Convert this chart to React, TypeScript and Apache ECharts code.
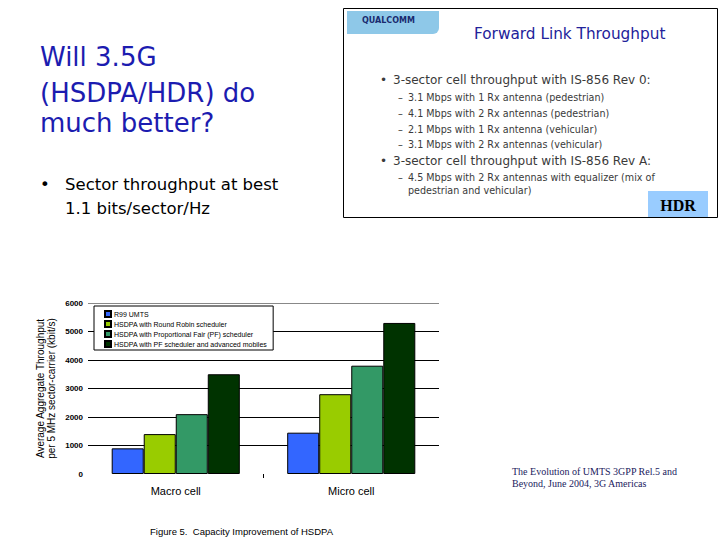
import React, { useEffect, useRef } from "react";
import * as echarts from "echarts";

const categories = ["Macro cell", "Micro cell"];
const seriesNames = [
  "R99 UMTS",
  "HSDPA with Round Robin scheduler",
  "HSDPA with Proportional Fair (PF) scheduler",
  "HSDPA with PF scheduler and advanced mobiles",
];
const r99 = [900, 1450];
const roundRobin = [1400, 2800];
const propFair = [2100, 3800];
const pfAdvanced = [3500, 5300];
const seriesColors = ["#3366ff", "#99cc00", "#339966", "#003300"];

const titleLines = ["Will 3.5G", "(HSDPA/HDR) do", "much better?"];
const bulletLines = ["Sector throughput at best", "1.1 bits/sector/Hz"];
const boxBullets = [
  "3-sector cell throughput with IS-856 Rev 0:",
  "3-sector cell throughput with IS-856 Rev A:",
];
const boxSubs1 = [
  "3.1 Mbps with 1 Rx antenna (pedestrian)",
  "4.1 Mbps with 2 Rx antennas (pedestrian)",
  "2.1 Mbps with 1 Rx antenna (vehicular)",
  "3.1 Mbps with 2 Rx antennas (vehicular)",
];
const boxSubs2 = [
  "4.5 Mbps with 2 Rx antennas with equalizer (mix of",
  "pedestrian and vehicular)",
];
const citation = [
  "The Evolution of UMTS 3GPP Rel.5 and",
  "Beyond, June 2004, 3G Americas",
];

const SANS = "'DejaVu Sans', Verdana, sans-serif";
const ARIAL = "'Liberation Sans', Arial, sans-serif";
const SERIF = "'Liberation Serif', 'Times New Roman', serif";

function txt(x: number, y: number, text: string, fontSize: number, family: string, fill: string, extra: any = {}) {
  return {
    type: "text",
    x,
    y,
    z: 20,
    silent: true,
    style: {
      text,
      fontSize,
      fontFamily: family,
      fill,
      align: "left",
      verticalAlign: "middle",
      ...extra,
    },
  };
}

export default function App() {
  const ref = useRef<HTMLDivElement>(null);
  useEffect(() => {
    if (!ref.current) return;
    const chart = echarts.init(ref.current, undefined, { renderer: "svg" });
    const values = [r99, roundRobin, propFair, pfAdvanced];

    const graphics: any[] = [];
    // slide title
    const titleY = [57, 93, 123];
    titleLines.forEach((t, i) => graphics.push(txt(40, titleY[i], t, 26, SANS, "#1c1cb0")));
    // bullet
    graphics.push(txt(40, 184, "•", 16.5, SANS, "#000"));
    bulletLines.forEach((t, i) => graphics.push(txt(65, 184 + i * 24, t, 16.5, SANS, "#000")));
    // screenshot box
    graphics.push({
      type: "rect",
      shape: { x: 343.5, y: 8.5, width: 374, height: 209 },
      style: { fill: "#fff", stroke: "#000", lineWidth: 1 },
      z: 1,
    });
    graphics.push({
      type: "rect",
      shape: { x: 347, y: 11, width: 92, height: 23, r: [0, 0, 6, 0] },
      style: { fill: "#8ec8e8" },
      z: 2,
    });
    graphics.push(txt(362, 20, "QUALCOMM", 8, SANS, "#1a2a6e", { fontWeight: "bold" }));
    graphics.push(txt(474, 34, "Forward Link Throughput", 15.3, SANS, "#22229a"));
    const bulletY = [80, 161];
    boxBullets.forEach((t, i) => {
      graphics.push(txt(380, bulletY[i], "•", 12, SANS, "#3a3a3a"));
      graphics.push(txt(393, bulletY[i], t, 12, SANS, "#3a3a3a"));
    });
    const sub1Y = [97.5, 113, 129, 144.5];
    boxSubs1.forEach((t, i) => {
      graphics.push(txt(398, sub1Y[i], "–", 9.6, SANS, "#3a3a3a"));
      graphics.push(txt(408, sub1Y[i], t, 9.6, SANS, "#3a3a3a"));
    });
    const sub2Y = [177, 190.5];
    boxSubs2.forEach((t, i) => {
      if (i === 0) graphics.push(txt(398, sub2Y[i], "–", 9.6, SANS, "#3a3a3a"));
      graphics.push(txt(408, sub2Y[i], t, 9.6, SANS, "#3a3a3a"));
    });
    graphics.push({
      type: "rect",
      shape: { x: 648, y: 191, width: 60, height: 26 },
      style: { fill: "#99ccff" },
      z: 2,
    });
    graphics.push(txt(678, 205, "HDR", 16, SERIF, "#000", { align: "center", fontWeight: "bold" }));
    // citation
    citation.forEach((t, i) => graphics.push(txt(512, 471 + i * 12.5, t, 10, SERIF, "#1a1a5e")));
    // figure caption
    graphics.push(txt(150, 531, "Figure 5.  Capacity Improvement of HSDPA", 9.5, ARIAL, "#000"));

    chart.setOption({
      animation: false,
      backgroundColor: "#fff",
      grid: { left: 88, right: 281, top: 303, bottom: 66 },
      legend: {
        orient: "vertical",
        left: 94,
        top: 306,
        data: seriesNames,
        itemWidth: 6,
        itemHeight: 6,
        itemGap: 2,
        padding: [4, 6, 2, 10],
        backgroundColor: "#fff",
        borderColor: "#000",
        borderWidth: 1,
        borderRadius: 0,
        icon: "rect",
        textStyle: { fontSize: 7, fontFamily: ARIAL, color: "#000", lineHeight: 7, padding: [0, 0, 0, -2] },
      },
      xAxis: [
        {
          type: "category",
          data: categories,
          axisLine: { show: false },
          axisTick: { show: false },
          axisLabel: { margin: 11.5, fontSize: 11, fontFamily: ARIAL, color: "#000" },
        },
        {
          type: "value",
          min: 0,
          max: 2,
          position: "bottom",
          axisLine: { show: false },
          axisLabel: { show: false },
          splitLine: { show: false },
          axisTick: { show: true, length: 4, lineStyle: { color: "#000" }, customValues: [1] },
        },
      ],
      yAxis: {
        type: "value",
        min: 0,
        max: 6000,
        interval: 1000,
        name: "Average Aggregate Throughput\nper 5 MHz sector-carrier (kbit/s)",
        nameLocation: "middle",
        nameGap: 31,
        nameTextStyle: { fontSize: 10, fontFamily: ARIAL, color: "#000", lineHeight: 11 },
        axisLine: { show: false },
        axisTick: { show: false },
        axisLabel: {
          margin: 5,
          fontSize: 8,
          fontFamily: ARIAL,
          color: "#000",
          fontWeight: "bold",
          formatter: (v: number) => String(v),
        },
        splitLine: {
          show: true,
          lineStyle: {
            color: ["rgba(0,0,0,0)", "#000", "#000", "#000", "#000", "#000", "#888"],
            width: 1,
          },
        },
      },
      series: seriesNames.map((name, i) => ({
        name,
        type: "bar",
        xAxisIndex: 0,
        data: values[i],
        barGap: "0%",
        barCategoryGap: "27%",
        itemStyle: { color: seriesColors[i], borderColor: "#000", borderWidth: 1 },
      })),
      graphic: graphics,
    });
    return () => chart.dispose();
  }, []);
  return (
    <div
      ref={ref}
      style={{ position: "absolute", left: 0, top: 0, width: 720, height: 540, background: "#fff" }}
    />
  );
}
